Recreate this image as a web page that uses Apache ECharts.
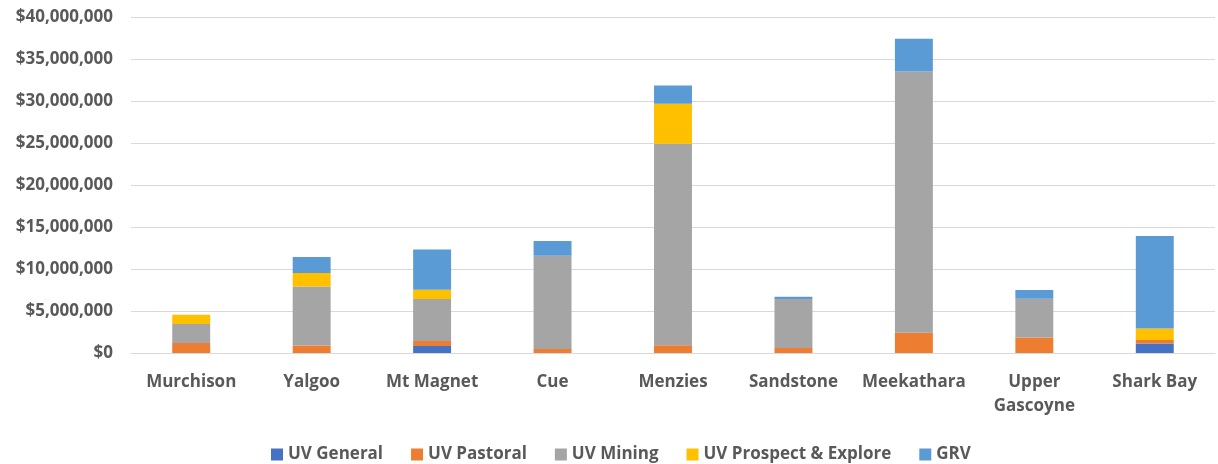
<!DOCTYPE html>
<html>
<head>
<meta charset="utf-8">
<script src="https://cdn.jsdelivr.net/npm/echarts@6/dist/echarts.min.js"></script>
<style>
  html, body { margin: 0; padding: 0; background: #fff; }
  #chart { width: 1218px; height: 464px; }
</style>
</head>
<body>
<div id="chart"></div>
<script>
// 各区域的分项数值（单位：澳元）
const categories = ['Murchison', 'Yalgoo', 'Mt Magnet', 'Cue', 'Menzies', 'Sandstone', 'Meekathara', 'Upper\nGascoyne', 'Shark Bay']
const uvGeneral = [0, 0, 840000, 0, 0, 0, 0, 0, 1130000]
const uvPastoral = [1200000, 890000, 600000, 480000, 920000, 600000, 2400000, 1840000, 430000]
const uvMining = [2240000, 7020000, 5000000, 11100000, 23990000, 5830000, 31100000, 4620000, 0]
const uvProspect = [1100000, 1600000, 1080000, 0, 4750000, 0, 0, 0, 1370000]
const grv = [0, 1920000, 4790000, 1760000, 2190000, 280000, 3920000, 1040000, 11000000]
const seriesNames = ['UV General', 'UV Pastoral', 'UV Mining', 'UV Prospect & Explore', 'GRV']
const colors = ['#4472C4', '#ED7D31', '#A5A5A5', '#FFC000', '#5B9BD5']

let myChart = echarts.init(document.getElementById('chart'))
const fontFamily = '"Open Sans", sans-serif'
const textColor = '#595959'

function money (v) {
  return '$' + v.toString().replace(/\B(?=(\d{3})+(?!\d))/g, ',')
}

const dataSets = [uvGeneral, uvPastoral, uvMining, uvProspect, grv]

let option = {
  animation: false,
  color: colors,
  grid: {
    left: 131,
    right: 3,
    top: 17,
    bottom: 111,
    containLabel: false
  },
  legend: {
    top: 441,
    left: 266,
    itemWidth: 12,
    itemHeight: 12,
    itemGap: 28,
    icon: 'rect',
    textStyle: {
      color: textColor,
      fontSize: 17,
      fontWeight: 'bold',
      fontFamily: fontFamily
    },
    data: seriesNames
  },
  xAxis: {
    type: 'category',
    data: categories,
    axisTick: { show: false },
    axisLine: {
      lineStyle: { color: '#d9d9d9', width: 1 }
    },
    axisLabel: {
      color: textColor,
      fontSize: 17,
      fontWeight: 'bold',
      fontFamily: fontFamily,
      margin: 17,
      lineHeight: 24,
      interval: 0
    }
  },
  yAxis: {
    type: 'value',
    min: 0,
    max: 40000000,
    interval: 5000000,
    axisLine: { show: false },
    axisTick: { show: false },
    splitLine: {
      lineStyle: { color: '#d9d9d9', width: 1 }
    },
    axisLabel: {
      color: textColor,
      fontSize: 17,
      fontWeight: 'bold',
      fontFamily: fontFamily,
      margin: 18,
      formatter: money
    }
  },
  series: seriesNames.map((name, i) => ({
    name: name,
    type: 'bar',
    stack: 'total',
    barWidth: '31.5%',
    itemStyle: { color: colors[i] },
    data: dataSets[i]
  }))
}
myChart.setOption(option)
</script>
</body>
</html>
